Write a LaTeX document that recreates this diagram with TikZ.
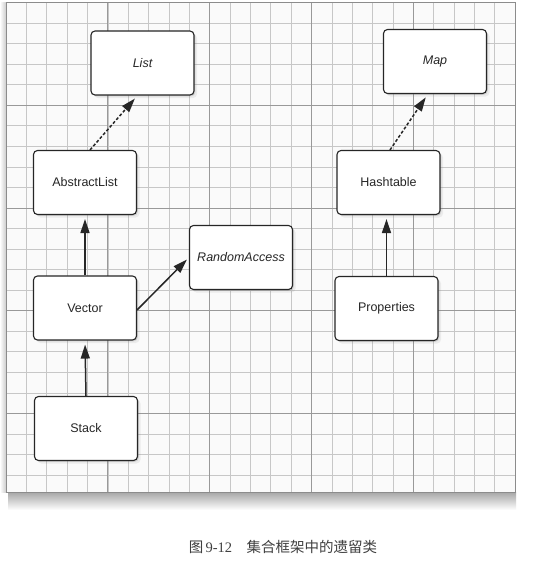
\documentclass[tikz,border=0pt]{standalone}
\usepackage{fontspec}
\setmainfont{Liberation Sans}
\newfontfamily\cjk{Noto Sans CJK SC}
\newfontfamily\serifnum{Liberation Serif}
\usetikzlibrary{arrows.meta,shadows,calc}
\begin{document}
\begin{tikzpicture}[x=1pt,y=-1pt,
  cls/.style={draw=black!85, line width=1.1pt, rounded corners=4pt, fill=white,
    minimum width=103pt, minimum height=64pt, inner sep=0pt,
    font=\fontsize{12.5}{14}\selectfont, text=black!85,
    drop shadow={opacity=0.12, shadow xshift=3pt, shadow yshift=-3pt},
    drop shadow={opacity=0.25, shadow xshift=1.3pt, shadow yshift=-1.3pt}},
  iface/.style={cls, font=\fontsize{12.5}{14}\selectfont\itshape},
  impl/.style={-{Triangle[length=14pt,width=9pt]}, line width=1.5pt, draw=black!85, shorten >=4pt},
  realizes/.style={impl, dash pattern=on 3pt off 2pt},
  minorline/.style={draw=black!22, line width=0.5pt},
  majorline/.style={draw=black!40, line width=0.8pt}]
\useasboundingbox (0,0) rectangle (534,563);
\fill[white] (0,0) rectangle (534,563);
% panel shadows
\shade[top color=black!35, bottom color=white] (8,492) rectangle (516,510);
\shade[left color=white, right color=black!20] (0,2.5) rectangle (6,492);
% panel
\fill[black!2] (6,2.5) rectangle (515,492);
\begin{scope}
  \clip (6,2.5) rectangle (515,492);
  \foreach \i in {0,...,25} \draw[minorline] ({6+\i*20.36},0) -- ++(0,495);
  \foreach \i in {0,...,24} \draw[minorline] (0,{2.5+\i*20.54}) -- ++(520,0);
  \foreach \i in {0,...,5} \draw[majorline] ({6+\i*101.8},0) -- ++(0,495);
  \foreach \i in {0,...,4} \draw[majorline] (0,{2.5+\i*102.7}) -- ++(520,0);
\end{scope}
\draw[black!45, line width=0.6pt] (6,2.5) rectangle (515,492);
% classes
\node[iface] (list) at (142.5,63) {List};
\node[iface] (map) at (435,61.5) {Map};
\node[cls] (al) at (85,182.5) {AbstractList};
\node[cls] (ht) at (388.5,182.5) {Hashtable};
\node[iface] (ra) at (241,257.5) {RandomAccess};
\node[cls] (vec) at (85,308) {Vector};
\node[cls] (prop) at (386.5,308.5) {Properties};
\node[cls] (stack) at (86,428.5) {Stack};
% connectors
\draw[realizes] ([xshift=5pt]al.north) -- ([xshift=-5pt]list.south);
\draw[realizes] ([xshift=1.5pt]ht.north) -- ([xshift=-7pt]map.south);
\draw[impl] (vec.north) -- (al.south);
\draw[impl] (stack.north) -- (vec.south);
\draw[impl] (prop.north) -- (prop.north |- ht.south);
\draw[impl, shorten >=3pt] ([yshift=-2pt]vec.east) -- (ra.west);
% caption
\node[font=\fontsize{14.5}{16}\selectfont, text=black!75] (cap) at (283,547)
  {\cjk 图\,{\serifnum 9-12}\quad 集合框架中的遗留类};
\end{tikzpicture}
\end{document}
